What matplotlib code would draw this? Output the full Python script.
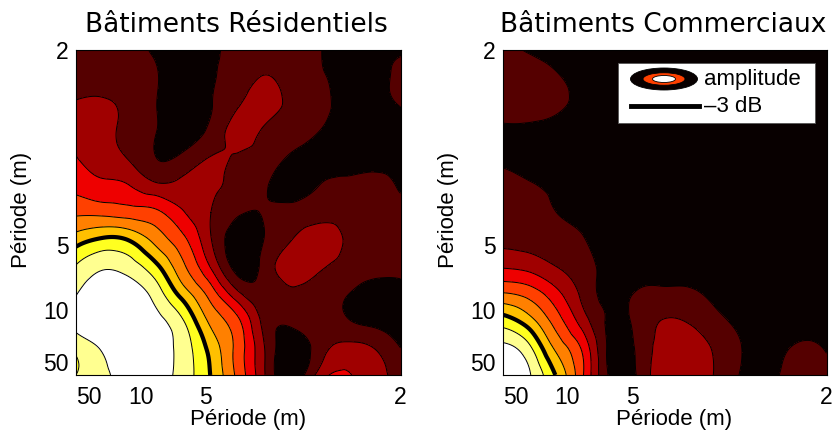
import numpy as np
import matplotlib
matplotlib.use("Agg")
import matplotlib.pyplot as plt
import matplotlib.tri as mtri
from matplotlib.patches import Ellipse, Rectangle
from matplotlib.lines import Line2D

titles = ["Bâtiments Résidentiels", "Bâtiments Commerciaux"]
axis_label = "Période (m)"
tick_periods = [50, 10, 5, 2]
levels = [-5, 1, 2, 3, 4, 5, 6, 7, 8, 9, 20]
colors = ["#080000", "#550000", "#a00000", "#ee0000", "#ff4000",
          "#ff8000", "#ffc000", "#ffff20", "#ffff90", "#ffffff"]
level_3db = 7

# rows run from the top of the panel (period 2) to the bottom (period 50 and up)
residential = [
    [1.0, 1.5, 1.4, 0.8, 0.5, 0.8, 1.3, 1.5, 1.5, 1.05, 0.6, 0.5, 0.7],
    [1.5, 1.6, 1.5, 1.05, 0.5, 0.9, 1.4, 2.05, 1.5, 1.1, 0.6, 0.4, 1.6],
    [2.1, 2.15, 1.7, 1.0, 0.5, 0.95, 1.9, 2.4, 1.7, 1.2, 0.7, 0.5, 1.1],
    [2.7, 2.4, 1.6, 1.0, 0.5, 1.3, 2.3, 1.85, 1.4, 1.0, 0.5, 0.4, 0.5],
    [3.05, 2.5, 1.9, 1.0, 1.3, 2.05, 1.9, 1.5, 0.85, 0.7, 0.5, 0.6, 0.7],
    [3.7, 3.25, 3.0, 2.2, 2.3, 2.2, 1.7, 1.1, 0.6, 1.0, 1.3, 1.35, 0.85],
    [4.8, 4.7, 4.5, 4.2, 3.05, 2.0, 1.1, 1.05, 1.3, 1.6, 1.7, 1.5, 1.4],
    [6.5, 7.15, 6.9, 5.6, 4.2, 2.05, 0.5, 1.05, 2.0, 2.5, 1.9, 1.5, 1.4],
    [8.05, 8.85, 8.5, 7.2, 5.15, 2.9, 0.6, 1.4, 2.5, 2.2, 1.6, 1.3, 1.25],
    [8.9, 9.9, 9.7, 8.5, 6.5, 4.55, 2.25, 1.3, 1.8, 1.5, 1.05, 0.6, 0.6],
    [9.4, 10.2, 10.1, 9.3, 8.0, 5.75, 4.2, 1.6, 1.25, 1.5, 1.1, 0.7, 0.4],
    [8.2, 9.2, 10.3, 9.7, 8.5, 6.65, 4.6, 1.95, 0.4, 1.5, 2.3, 2.0, 1.0],
    [8.0, 8.6, 9.8, 9.6, 8.5, 6.95, 4.7, 2.0, 0.3, 2.4, 3.1, 2.4, 1.7],
]
commercial = [
    [1.3, 0.9, 0.6, 0.4, 0.4, 0.4, 0.4, 0.4, 0.4, 0.4, 0.4, 0.4, 0.4],
    [1.6, 1.5, 1.1, 0.6, 0.3, 0.3, 0.3, 0.3, 0.3, 0.3, 0.3, 0.3, 0.3],
    [1.5, 1.5, 1.2, 0.7, 0.3, 0.3, 0.3, 0.3, 0.3, 0.3, 0.3, 0.3, 0.3],
    [0.8, 0.75, 0.6, 0.4, 0.3, 0.3, 0.3, 0.3, 0.3, 0.3, 0.3, 0.3, 0.3],
    [0.8, 0.6, 0.5, 0.4, 0.3, 0.3, 0.3, 0.3, 0.3, 0.3, 0.3, 0.3, 0.3],
    [1.4, 1.1, 0.8, 0.6, 0.3, 0.3, 0.3, 0.3, 0.3, 0.3, 0.3, 0.3, 0.3],
    [1.7, 1.55, 1.0, 0.7, 0.4, 0.3, 0.3, 0.3, 0.3, 0.3, 0.3, 0.3, 0.3],
    [1.8, 1.7, 1.5, 1.05, 0.5, 0.3, 0.3, 0.3, 0.3, 0.3, 0.3, 0.3, 0.3],
    [2.9, 2.65, 2.0, 1.4, 0.6, 0.4, 0.5, 0.5, 0.4, 0.3, 0.3, 0.3, 0.3],
    [5.1, 4.6, 3.3, 1.7, 0.7, 1.1, 1.25, 1.15, 0.7, 0.4, 0.3, 0.3, 0.3],
    [7.5, 6.4, 4.5, 2.45, 0.8, 1.3, 2.05, 1.85, 1.2, 0.7, 0.4, 0.4, 0.4],
    [9.3, 8.2, 5.75, 3.7, 0.7, 1.2, 2.4, 2.6, 1.7, 0.9, 0.6, 1.2, 0.9],
    [10.5, 9.1, 6.9, 4.0, 0.8, 1.1, 2.6, 2.6, 1.8, 0.8, 0.8, 1.6, 1.3],
]
panels = [residential, commercial]

FW, FH = 835, 433
plt.rcParams["font.family"] = ["Liberation Sans", "DejaVu Sans"]
fig = plt.figure(figsize=(FW / 100, FH / 100), dpi=100)
boxes = [(75.5, 50, 325, 325), (502.5, 50, 324, 325)]
wave = np.linspace(0, 0.5, 13)
wave_rows = wave[::-1]
X, Y = np.meshgrid(wave, wave_rows)
tri = mtri.Triangulation(X.ravel(), Y.ravel())
refiner = mtri.UniformTriRefiner(tri)

for i, (values, box, title) in enumerate(zip(panels, boxes, titles)):
    l, t, w, h = box
    ax = fig.add_axes([l / FW, 1 - (t + h) / FH, w / FW, h / FH])
    z = np.array(values, dtype=float).ravel()
    interp = mtri.CubicTriInterpolator(tri, z, kind="min_E")
    rt, rz = refiner.refine_field(z, triinterpolator=interp, subdiv=4)
    ax.tricontourf(rt, rz, levels=levels, colors=colors)
    inner = [v for v in levels[1:-1] if v != level_3db]
    ax.tricontour(rt, rz, levels=inner, colors="k", linewidths=0.7)
    ax.tricontour(rt, rz, levels=[level_3db], colors="k", linewidths=3)
    ax.set_xlim(0, 0.5)
    ax.set_ylim(0, 0.5)
    ticks = [1 / p for p in tick_periods]
    ax.set_xticks(ticks, [str(p) for p in tick_periods])
    ax.set_yticks(ticks, [str(p) for p in tick_periods])
    ax.tick_params(length=0, labelsize=16.5, pad=5)
    ax.tick_params(axis="x", pad=8)
    ax.set_xlabel(axis_label, fontsize=16, labelpad=0)
    ax.set_ylabel(axis_label, fontsize=16)
    ax.xaxis.set_label_coords(0.53, -0.138, transform=ax.transAxes)
    ax.yaxis.set_label_coords(-0.165 if i == 0 else -0.167, 0.508, transform=ax.transAxes)
    ax.xaxis.label.set_verticalalignment("center")
    ax.yaxis.label.set_verticalalignment("center")
    ax.set_title(title, family="DejaVu Sans", fontsize=19, pad=13, x=0.495)
    for s in ax.spines.values():
        s.set_linewidth(0.8)

# legend drawn in pixel positions of the figure
def px(x, y):
    return x / FW, 1 - y / FH

lx, ly = px(618, 123)
fig.add_artist(Rectangle((lx, ly), 197 / FW, 60 / FH, transform=fig.transFigure,
                         facecolor="white", edgecolor="#555555", linewidth=0.6, zorder=5))
for wd, hg, col in [(67, 22, "#080000"), (42, 12.5, "#ff4000"), (23, 7, "white")]:
    fig.add_artist(Ellipse(px(664, 79), wd / FW, hg / FH, transform=fig.transFigure,
                           facecolor=col, edgecolor="k", linewidth=0.6, zorder=6))
x0, y0 = px(631, 106)
x1, _ = px(699, 106)
fig.add_artist(Line2D([x0, x1], [y0, y0], transform=fig.transFigure, color="k", lw=3.5, zorder=6))
fig.text(*px(704, 80), "amplitude", fontsize=16, va="center", ha="left", zorder=7)
fig.text(*px(704, 107), "–3 dB", fontsize=16, va="center", ha="left", zorder=7)

fig.savefig("out.png", dpi=100)
